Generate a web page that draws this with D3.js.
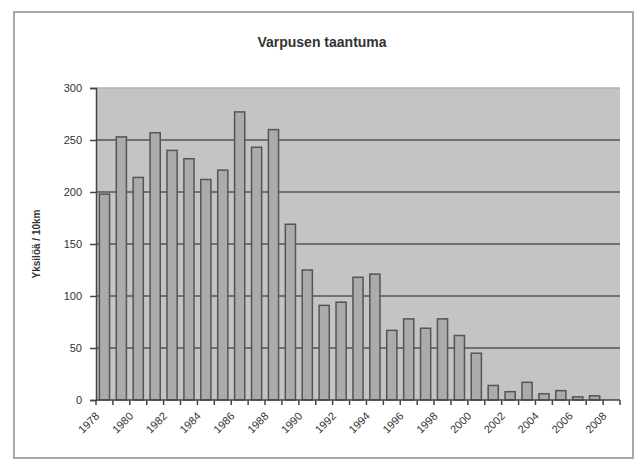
<!DOCTYPE html>
<html lang="fi">
<head>
<meta charset="utf-8">
<script src="https://d3js.org/d3.v7.min.js"></script>
<style>
  body { margin: 0; background: #fff; }
  svg text { font-family: "Liberation Sans", Arial, sans-serif; fill: #333; }
</style>
</head>
<body>
<div id="chart"></div>
<script>
    // vuodet ja laskennat (luettu kuvasta)
    var years = [1978, 1979, 1980, 1981, 1982, 1983, 1984, 1985, 1986, 1987,
                 1988, 1989, 1990, 1991, 1992, 1993, 1994, 1995, 1996, 1997,
                 1998, 1999, 2000, 2001, 2002, 2003, 2004, 2005, 2006, 2007, 2008];
    var counts = [198, 253, 214, 257, 240, 232, 212, 221, 277, 243,
                  260, 169, 125, 91, 94, 118, 121, 67, 78, 69,
                  78, 62, 45, 14, 8, 17, 6, 9, 3, 4, null];
    var yTicks = [0, 50, 100, 150, 200, 250, 300];
    var xLabels = years.filter(function(d){ return d % 2 === 0; });

    var W = 641, H = 464;
    var margin = {top: 88, right: 21, bottom: 64, left: 96},
        width = W - margin.left - margin.right,
        height = H - margin.top - margin.bottom;

    var svg = d3.select("#chart").append("svg")
        .attr("width", W)
        .attr("height", H);

    // kehys
    svg.append("rect")
        .attr("x", 14).attr("y", 12)
        .attr("width", 619).attr("height", 446)
        .attr("fill", "#fff")
        .attr("stroke", "#a8a8a8")
        .attr("stroke-width", 2);

    svg.append("text")
        .attr("x", 322).attr("y", 47)
        .attr("text-anchor", "middle")
        .style("font-size", "14px")
        .style("font-weight", "bold")
        .text("Varpusen taantuma");

    var g = svg.append("g")
        .attr("transform", "translate(" + margin.left + "," + margin.top + ")");

    var x = d3.scaleBand()
        .domain(years)
        .range([0, width])
        .paddingInner(0.4)
        .paddingOuter(0.2);

    var y = d3.scaleLinear()
        .domain([0, 300])
        .range([height, 0]);

    // piirtoalue
    g.append("rect")
        .attr("width", width).attr("height", height)
        .attr("fill", "#c4c4c4");

    g.selectAll(".grid")
        .data(yTicks.filter(function(d){ return d > 0; }))
        .enter().append("line")
        .attr("x1", 0).attr("x2", width)
        .attr("y1", function(d){ return y(d); })
        .attr("y2", function(d){ return y(d); })
        .attr("stroke", function(d){ return d === 300 ? "#b0b0b0" : "#555"; })
        .attr("stroke-width", 1.6);

    g.selectAll(".bar")
        .data(years.map(function(d, i){ return {year: d, v: counts[i]}; })
                   .filter(function(d){ return d.v !== null; }))
        .enter().append("rect")
        .attr("x", function(d){ return x(d.year); })
        .attr("y", function(d){ return y(d.v); })
        .attr("width", x.bandwidth())
        .attr("height", function(d){ return height - y(d.v); })
        .attr("fill", "#ababab")
        .attr("stroke", "#555")
        .attr("stroke-width", 1.5);

    // y-akseli
    var yAxis = g.append("g")
        .call(d3.axisLeft(y).tickValues(yTicks).tickSize(6).tickPadding(8));
    yAxis.select(".domain").attr("stroke", "#444").attr("stroke-width", 1.5);
    yAxis.selectAll(".tick line").attr("stroke", "#444").attr("stroke-width", 1.5);
    yAxis.selectAll("text").style("font-size", "11px").attr("fill", "#444");

    // x-akseli: merkit luokkien rajoilla
    var step = x.step();
    var bounds = d3.range(years.length + 1);
    var xAxis = g.append("g").attr("transform", "translate(0," + height + ")");
    xAxis.append("line")
        .attr("x1", 0).attr("x2", width)
        .attr("stroke", "#444").attr("stroke-width", 1.5);
    xAxis.selectAll(".tk")
        .data(bounds)
        .enter().append("line")
        .attr("x1", function(d){ return d * step; })
        .attr("x2", function(d){ return d * step; })
        .attr("y1", 0).attr("y2", 5)
        .attr("stroke", "#444").attr("stroke-width", 1.5);

    xAxis.selectAll(".lbl")
        .data(xLabels)
        .enter().append("text")
        .attr("transform", function(d){
            return "translate(" + (x(d) + x.bandwidth() / 2 - 7) + ",14) rotate(-45)";
        })
        .attr("text-anchor", "end")
        .attr("dy", "0.35em")
        .style("font-size", "11px")
        .attr("fill", "#444")
        .text(function(d){ return d; });

    svg.append("text")
        .attr("transform", "translate(40," + (margin.top + height / 2) + ") rotate(-90)")
        .attr("text-anchor", "middle")
        .style("font-size", "10px")
        .style("font-weight", "bold")
        .text("Yksilöä / 10km");
</script>
</body>
</html>
